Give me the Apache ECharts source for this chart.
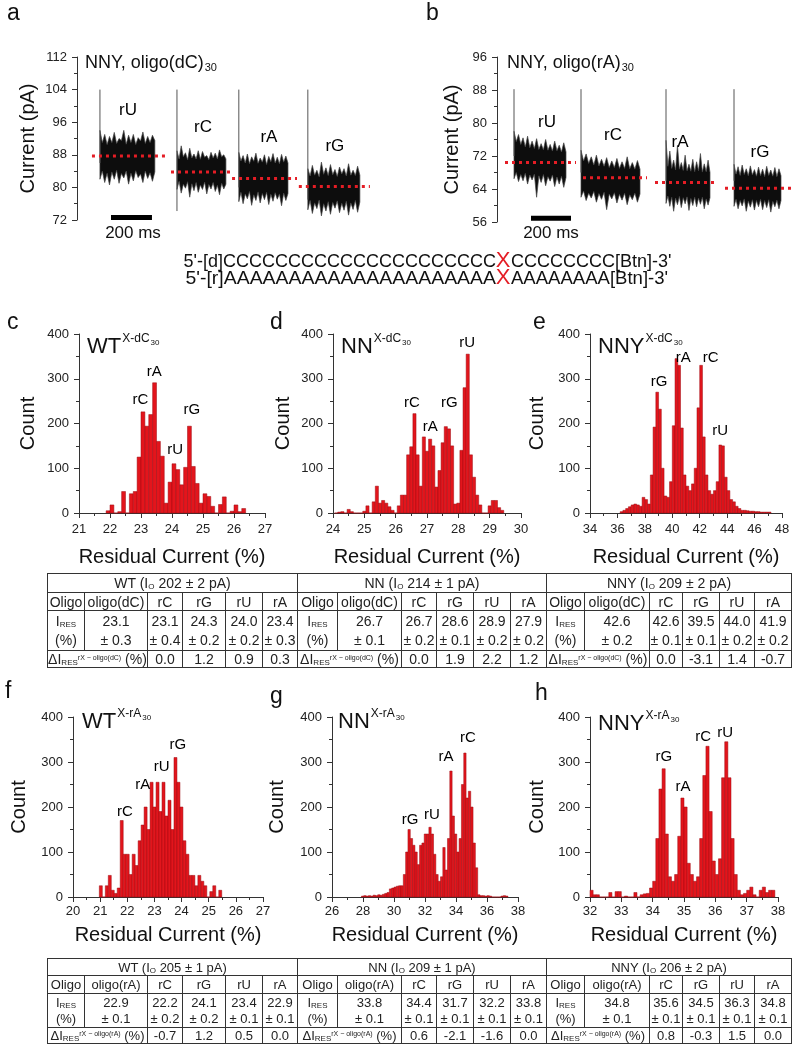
<!DOCTYPE html>
<html>
<head>
<meta charset="utf-8">
<script src="https://cdn.jsdelivr.net/npm/echarts@6/dist/echarts.min.js"></script>
<style>
  body { margin: 0; background: #fff; }
  #wrap { position: relative; width: 801px; height: 1050px; }
  #chart { position: absolute; left: 0; top: 0; width: 801px; height: 1050px; }
  table.res { position: absolute; border-collapse: collapse; table-layout: fixed;
    font-family: 'Liberation Sans', Arial, sans-serif; color: #222; border: 1.5px solid #333; }
  table.res td { border: 1px solid #333; text-align: center; padding: 0; white-space: nowrap; overflow: hidden; }
  table.res sub { font-size: 8px; vertical-align: -1px; line-height: 0; }
  table.res sup { font-size: 7px; vertical-align: 4px; line-height: 0; }
</style>
</head>
<body>
<div id="wrap">
  <div id="chart"></div>
</div>
<script>
// ---------- panel a / b : current traces ----------
const traceNames = ['rU', 'rC', 'rA', 'rG'];

const aStart = [112, 488, 790, 1127];
const aEnd = [380, 727, 1030, 1381];
const aSpikeTop = [104, 104, 104, 104];
const aSpikeLow = [86, 74.2, 80, 77];
const aLevel = [87.7, 83.8, 82.2, 80.2];
const aLevelFrom = [73, 459, 757, 1083];
const aLevelTo = [430, 766, 1074, 1430];
const aLabelX = [249, 615, 937, 1259];
const aLabelY = [99.0, 94.8, 92.2, 90.0];
const aScale = [166, 366];
const aUpper = [
  [94, 91, 93, 90.5, 92.5, 91, 93.5, 90.8, 92, 91.5, 94, 90.6, 92.8, 91, 93, 90.5, 92.2, 91.4, 93.6, 90.8, 92.5, 91, 92.8, 91.5],
  [89, 87, 90.2, 87.5, 88.5, 86.8, 89.6, 87.2, 88.2, 87, 89, 86.9, 88.8, 87.4, 87.8, 86.8, 88.6, 87.2, 88.4, 87, 89.2, 87.5, 88, 87],
  [88.6, 86.5, 87.8, 86, 88.2, 85.8, 87.5, 86.4, 88.4, 85.9, 87.2, 86.2, 88, 85.6, 87.6, 86.3, 88.3, 86, 87.4, 85.8, 88.1, 86.2, 87.7, 86],
  [84.6, 82.8, 85.4, 83, 84.2, 82.6, 86.2, 83.2, 84.8, 82.9, 85.6, 83.1, 84.4, 82.7, 85, 83.3, 84.6, 82.8, 85.8, 83, 84.2, 82.9, 85.2, 83]
];
const aLower = [
  [82, 84, 81.2, 83.5, 80.6, 83.8, 82, 84.2, 81, 83.4, 82.3, 84, 80.8, 83.5, 81.6, 84.1, 82.4, 83.3, 81.2, 84, 82.2, 83.6, 81.5, 83.8],
  [79.5, 81.5, 78.6, 80.8, 79.8, 81.4, 77.6, 80.9, 79.2, 81.2, 78.8, 80.6, 79.5, 81.3, 78.4, 80.7, 79.6, 81.2, 79, 80.5, 78.2, 81, 79.6, 80.8],
  [76.5, 78.8, 76, 78.4, 77.2, 79, 75.6, 78.2, 76.8, 78.9, 76.2, 78.5, 77, 78.8, 75.8, 78.3, 76.6, 78.7, 77.1, 78.4, 75.5, 78.6, 76.8, 78.5],
  [74.5, 76.8, 73.6, 76.2, 74.8, 76.9, 73, 76, 74.2, 76.5, 73.4, 76.3, 74.9, 76.7, 73.8, 76.1, 74.4, 76.6, 73.2, 76.2, 74.6, 76.8, 73.9, 76.4]
];

const bStart = [85, 420, 845, 1185];
const bEnd = [345, 715, 1065, 1420];
const bSpikeTop = [88.2, 88.2, 88.2, 88.2];
const bSpikeLow = [72, 68, 66, 66];
const bLevel = [70.4, 66.7, 65.6, 64.2];
const bLevelFrom = [40, 430, 790, 1140];
const bLevelTo = [395, 750, 1105, 1480];
const bLabelX = [250, 580, 915, 1315];
const bLabelY = [80.2, 77.1, 75.4, 73.0];
const bScale = [170, 370];
const bUpper = [
  [78, 75.5, 77.2, 74.8, 76.4, 74.2, 76.8, 74, 75.6, 73.8, 76.2, 73.6, 75, 73.5, 76, 73.4, 74.8, 73.2, 75.6, 73.3, 74.6, 73, 75.2, 73],
  [73.4, 70.8, 72.5, 70.2, 71.8, 69.8, 72.2, 69.6, 71.2, 69.5, 71.6, 69.2, 70.8, 69.2, 71.4, 69, 70.6, 69, 71.8, 68.9, 70.4, 68.8, 70.9, 68.8],
  [75.8, 69.5, 73.2, 69, 71, 68.6, 74.6, 68.8, 70.4, 68.5, 72.2, 68.4, 70, 68.3, 71.2, 68.2, 70.6, 68.4, 72.6, 68.1, 70.1, 68.2, 71, 68],
  [70, 67.6, 69.4, 67.3, 69.8, 67.5, 68.9, 67.2, 69.6, 67.4, 68.7, 67.1, 69.3, 67.2, 68.8, 67, 69.5, 67.3, 68.6, 67.1, 69.2, 67, 68.9, 67.2]
];
const bLower = [
  [66.5, 68, 65.8, 67.5, 66, 67.8, 65.2, 67.4, 66.2, 67.6, 62, 67.2, 65.6, 67.5, 64.8, 67, 65.9, 67.4, 64.6, 66.9, 65.2, 67.1, 64.4, 66.8],
  [62, 63.5, 61.2, 63, 61.8, 63.4, 60.8, 62.9, 61.5, 63.2, 59, 62.8, 61.6, 63.1, 60.6, 62.7, 61.3, 63, 60.2, 62.6, 61.4, 63, 60.8, 62.8],
  [60.5, 62.3, 59.8, 62, 58.6, 61.8, 60.2, 62.2, 59.5, 61.9, 60.4, 62.1, 58.8, 61.7, 60, 62, 59.7, 61.8, 60.3, 62, 59.2, 61.6, 60.1, 61.9],
  [59.8, 61.5, 59.2, 61.2, 59.9, 61.6, 58.6, 61.1, 59.6, 61.4, 58.9, 61.2, 59.7, 61.5, 59, 61.2, 59.5, 61.4, 58.4, 61, 59.7, 61.3, 59.2, 61.2]
];

// ---------- histograms c-h ----------
const cStart = 21.875, cWidth = 0.125;
const cCounts = [5, 18, 0, 3, 48, 0, 43, 48, 125, 226, 194, 220, 291, 160, 127, 22, 69, 110, 97, 63, 102, 194, 104, 66, 22, 43, 37, 15, 0, 19, 36, 0, 4, 18, 3, 10];
const cPeaks = ['rC', 'rA', 'rU', 'rG'];
const cPeakX = [22.98, 23.43, 24.10, 24.64];
const cPeakY = [252, 315, 141, 230];

const dStart = 24.05, dWidth = 0.1;
const dCounts = [0, 2, 3, 0, 8, 3, 0, 0, 0, 4, 16, 0, 25, 60, 22, 28, 22, 14, 6, 0, 16, 40, 40, 130, 148, 222, 130, 60, 170, 138, 165, 150, 58, 95, 157, 193, 188, 150, 20, 22, 140, 280, 355, 130, 80, 40, 18, 0, 0, 16, 28, 28, 12, 6];
const dPeaks = ['rC', 'rA', 'rG', 'rU'];
const dPeakX = [26.52, 27.10, 27.71, 28.28];
const dPeakY = [246, 192, 246, 380];

const eStart = 36.2, eWidth = 0.2;
const eCounts = [3, 6, 10, 14, 18, 20, 18, 15, 35, 30, 20, 85, 192, 270, 232, 100, 38, 35, 70, 195, 345, 330, 190, 85, 60, 50, 65, 100, 235, 330, 170, 85, 50, 42, 50, 70, 152, 150, 80, 50, 30, 25, 15, 10, 6, 6, 5, 4, 4, 3, 3, 2, 2, 2, 2];
const ePeaks = ['rG', 'rA', 'rC', 'rU'];
const ePeakX = [39.04, 40.8, 42.8, 43.5];
const ePeakY = [293, 346, 346, 183];

const fStart = 20.97, fWidth = 0.11;
const fCounts = [25, 0, 25, 48, 15, 8, 20, 170, 95, 95, 50, 95, 70, 125, 160, 200, 150, 255, 200, 255, 190, 255, 180, 215, 150, 310, 255, 200, 125, 95, 48, 48, 25, 48, 35, 25, 0, 12, 25, 0, 15];
const fPeaks = ['rC', 'rA', 'rU', 'rG'];
const fPeakX = [21.91, 22.57, 23.27, 23.86];
const fPeakY = [189, 249, 289, 338];

const gStart = 27.9, gWidth = 0.15;
const gCounts = [2, 3, 2, 3, 2, 4, 3, 5, 4, 6, 8, 10, 18, 20, 22, 24, 25, 25, 50, 100, 150, 130, 115, 100, 72, 115, 120, 140, 140, 155, 140, 95, 50, 35, 45, 110, 60, 130, 280, 180, 140, 100, 130, 250, 320, 220, 235, 200, 120, 65, 5, 3, 3, 2, 3, 2, 0, 0, 0, 0, 2, 3, 2];
const gPeaks = ['rG', 'rU', 'rA', 'rC'];
const gPeakX = [31.03, 32.45, 33.35, 34.77];
const gPeakY = [171, 182, 311, 353];

const hStart = 32.0, hWidth = 0.1;
const hCounts = [15, 5, 5, 0, 0, 0, 10, 0, 12, 12, 0, 2, 0, 0, 10, 0, 5, 7, 8, 20, 35, 130, 240, 285, 140, 45, 35, 50, 135, 220, 200, 75, 50, 35, 45, 130, 270, 335, 190, 80, 50, 85, 265, 345, 265, 130, 50, 15, 5, 8, 15, 22, 5, 0, 15, 22, 10, 15, 15];
const hPeaks = ['rG', 'rA', 'rC', 'rU'];
const hPeakX = [34.36, 34.97, 35.61, 36.31];
const hPeakY = [311, 244, 356, 364];

// ---------- tables ----------
const groups1 = ['WT', 'NN', 'NNY'];
const io1 = ['202 ± 2', '214 ± 1', '209 ± 2'];
const ref1 = [23.1, 26.7, 42.6];
const refErr1 = [0.3, 0.1, 0.2];
const res1 = [[23.1, 24.3, 24.0, 23.4], [26.7, 28.6, 28.9, 27.9], [42.6, 39.5, 44.0, 41.9]];
const err1 = [[0.4, 0.2, 0.2, 0.3], [0.2, 0.1, 0.2, 0.2], [0.1, 0.1, 0.2, 0.2]];
const delta1 = [[0.0, 1.2, 0.9, 0.3], [0.0, 1.9, 2.2, 1.2], [0.0, -3.1, 1.4, -0.7]];

const groups2 = ['WT', 'NN', 'NNY'];
const io2 = ['205 ± 1', '209 ± 1', '206 ± 2'];
const ref2 = [22.9, 33.8, 34.8];
const refErr2 = [0.1, 0.1, 0.1];
const res2 = [[22.2, 24.1, 23.4, 22.9], [34.4, 31.7, 32.2, 33.8], [35.6, 34.5, 36.3, 34.8]];
const err2 = [[0.2, 0.2, 0.1, 0.1], [0.1, 0.1, 0.1, 0.1], [0.1, 0.1, 0.1, 0.1]];
const delta2 = [[-0.7, 1.2, 0.5, 0.0], [0.6, -2.1, -1.6, 0.0], [0.8, -0.3, 1.5, 0.0]];
const colNames = ['rC', 'rG', 'rU', 'rA'];

// ---------- drawing ----------
const FONT = "'Liberation Sans', Arial, sans-serif";
const RED = '#e41d25';
const INK = '#222';

const measure = (() => {
  const ctx = document.createElement('canvas').getContext('2d');
  return (t, s) => { ctx.font = s + 'px ' + FONT; return ctx.measureText(t).width; };
})();

function text(x, y, str, size, extra) {
  return {
    type: 'text', x: x, y: y, silent: true,
    style: Object.assign({ text: str, fontSize: size, fontFamily: FONT, fill: '#111', align: 'left', verticalAlign: 'middle' }, extra || {})
  };
}

// title with superscript + subscript, e.g. WT^{X-dC}_{30}
function heading(x, y, main, sup, sub) {
  const w1 = measure(main, 22);
  const w2 = measure(sup, 12);
  return [
    text(x, y, main, 22),
    text(x + w1 + 1, y - 8, sup, 12),
    text(x + w1 + w2 + 2, y - 4, sub, 8)
  ];
}

const grids = [
  { left: 77, top: 57, width: 297, height: 163 },   // a
  { left: 497, top: 57, width: 300, height: 165 },  // b
  { left: 79, top: 334, width: 186, height: 179 },  // c
  { left: 333, top: 334, width: 188, height: 179 }, // d
  { left: 590, top: 334, width: 192, height: 179 }, // e
  { left: 73, top: 717, width: 190, height: 180 },  // f
  { left: 332, top: 717, width: 186, height: 180 }, // g
  { left: 590, top: 717, width: 188, height: 180 }  // h
];

const axisLine = { show: true, lineStyle: { color: '#333', width: 1 } };
const axisTick = { show: true, length: 5, lineStyle: { color: '#333' } };
const minorTick = { show: true, splitNumber: 2, length: 3, lineStyle: { color: '#333' } };

function yAxis(gi, min, max, interval, name, gap) {
  return {
    gridIndex: gi, type: 'value', min: min, max: max, interval: interval,
    name: name, nameLocation: 'middle', nameGap: gap,
    nameTextStyle: { fontFamily: FONT, fontSize: 20, color: '#111' },
    axisLine: axisLine, axisTick: axisTick, minorTick: minorTick,
    splitLine: { show: false },
    axisLabel: { fontFamily: FONT, fontSize: 13, color: INK, margin: 10 }
  };
}

function xAxisHist(gi, min, max, interval, minorSplit, margin, gap) {
  return {
    gridIndex: gi, type: 'value', min: min, max: max, interval: interval,
    name: 'Residual Current (%)', nameLocation: 'middle', nameGap: gap,
    nameTextStyle: { fontFamily: FONT, fontSize: 20, color: '#111' },
    axisLine: axisLine, axisTick: axisTick,
    minorTick: Object.assign({}, minorTick, { splitNumber: minorSplit }),
    splitLine: { show: false },
    axisLabel: { fontFamily: FONT, fontSize: 13, color: INK, margin: margin }
  };
}

function traceSeries(gi, start, end, upper, lower, spikeTop, spikeLow) {
  return {
    type: 'custom', xAxisIndex: gi, yAxisIndex: gi, silent: true,
    data: start.map((s, i) => [s, end[i], i]),
    renderItem: (params, api) => {
      const s = api.value(0), e = api.value(1), i = api.value(2);
      const up = upper[i], lo = lower[i];
      const pts = [];
      up.forEach((v, k) => pts.push(api.coord([s + (e - s) * k / (up.length - 1), v])));
      for (let k = lo.length - 1; k >= 0; k--) {
        pts.push(api.coord([s + (e - s) * k / (lo.length - 1), lo[k]]));
      }
      const top = api.coord([s, spikeTop[i]]);
      const bot = api.coord([s, spikeLow[i]]);
      return {
        type: 'group', children: [
          { type: 'polygon', shape: { points: pts }, style: { fill: '#0d0d0d', stroke: '#444', lineWidth: 0.7 } },
          { type: 'line', shape: { x1: top[0], y1: top[1], x2: bot[0], y2: bot[1] }, style: { stroke: '#555', lineWidth: 1 } }
        ]
      };
    }
  };
}

function levelSeries(gi, level, from, to) {
  return level.map((l, i) => ({
    type: 'line', xAxisIndex: gi, yAxisIndex: gi, silent: true, z: 5,
    symbol: 'none', data: [[from[i], l], [to[i], l]],
    lineStyle: { color: RED, width: 3, type: [3, 4] }
  }));
}

function scaleBar(gi, span, y) {
  return {
    type: 'line', xAxisIndex: gi, yAxisIndex: gi, silent: true, symbol: 'none',
    data: [[span[0], y], [span[1], y]], lineStyle: { color: '#000', width: 5 }
  };
}

// peak / event names placed in data coordinates
function labelSeries(gi, names, xs, ys, size) {
  return {
    type: 'custom', xAxisIndex: gi, yAxisIndex: gi, silent: true, z: 6,
    data: xs.map((x, i) => [x, ys[i], i]),
    renderItem: (params, api) => {
      const p = api.coord([api.value(0), api.value(1)]);
      return {
        type: 'text', x: p[0], y: p[1],
        style: { text: names[api.value(2)], fontSize: size, fontFamily: FONT, fill: '#000', align: 'center', verticalAlign: 'middle' }
      };
    }
  };
}

function histSeries(gi, start, width, counts) {
  return {
    type: 'custom', xAxisIndex: gi, yAxisIndex: gi, silent: true,
    encode: { x: [0, 1], y: 2 },
    data: counts.map((c, i) => [start + i * width, start + (i + 1) * width, c]),
    renderItem: (params, api) => {
      const p0 = api.coord([api.value(0), 0]);
      const p1 = api.coord([api.value(1), api.value(2)]);
      return {
        type: 'rect',
        shape: { x: p0[0], y: p1[1], width: p1[0] - p0[0], height: p0[1] - p1[1] },
        style: { fill: '#e3151c', stroke: '#9c0b10', lineWidth: 0.5 }
      };
    }
  };
}

const xAxes = [
  { gridIndex: 0, type: 'value', min: 0, max: 1450, show: false },
  { gridIndex: 1, type: 'value', min: 0, max: 1500, show: false },
  xAxisHist(2, 21, 27, 1, 2, 10, 34),
  xAxisHist(3, 24, 30, 1, 2, 10, 34),
  xAxisHist(4, 34, 48, 2, 2, 10, 34),
  xAxisHist(5, 20, 27, 1, 2, 8, 28),
  xAxisHist(6, 26, 38, 2, 2, 8, 28),
  xAxisHist(7, 32, 38, 1, 2, 8, 28)
];

const yAxes = [
  yAxis(0, 72, 112, 8, 'Current (pA)', 39),
  yAxis(1, 56, 96, 8, 'Current (pA)', 35),
  yAxis(2, 0, 400, 100, 'Count', 41),
  yAxis(3, 0, 400, 100, 'Count', 40),
  yAxis(4, 0, 400, 100, 'Count', 43),
  yAxis(5, 0, 400, 100, 'Count', 44),
  yAxis(6, 0, 400, 100, 'Count', 45),
  yAxis(7, 0, 400, 100, 'Count', 43)
];

const series = [].concat(
  traceSeries(0, aStart, aEnd, aUpper, aLower, aSpikeTop, aSpikeLow),
  levelSeries(0, aLevel, aLevelFrom, aLevelTo),
  scaleBar(0, aScale, 72.6),
  labelSeries(0, traceNames, aLabelX, aLabelY, 17),
  traceSeries(1, bStart, bEnd, bUpper, bLower, bSpikeTop, bSpikeLow),
  levelSeries(1, bLevel, bLevelFrom, bLevelTo),
  scaleBar(1, bScale, 56.9),
  labelSeries(1, traceNames, bLabelX, bLabelY, 17),
  histSeries(2, cStart, cWidth, cCounts),
  labelSeries(2, cPeaks, cPeakX, cPeakY, 15),
  histSeries(3, dStart, dWidth, dCounts),
  labelSeries(3, dPeaks, dPeakX, dPeakY, 15),
  histSeries(4, eStart, eWidth, eCounts),
  labelSeries(4, ePeaks, ePeakX, ePeakY, 15),
  histSeries(5, fStart, fWidth, fCounts),
  labelSeries(5, fPeaks, fPeakX, fPeakY, 15),
  histSeries(6, gStart, gWidth, gCounts),
  labelSeries(6, gPeaks, gPeakX, gPeakY, 15),
  histSeries(7, hStart, hWidth, hCounts),
  labelSeries(7, hPeaks, hPeakX, hPeakY, 15)
);

// texts around the plots
const w1 = measure('NNY, oligo(dC)', 18);
const w2 = measure('NNY, oligo(rA)', 18);
const graphics = [
  text(7, 14, 'a', 23), text(426, 14, 'b', 23),
  text(7, 323, 'c', 23), text(270, 323, 'd', 23), text(533, 323, 'e', 23),
  text(5, 692, 'f', 23), text(270, 697, 'g', 23), text(535, 694, 'h', 23),
  text(85, 63, 'NNY, oligo(dC)', 18), text(85 + w1 + 1, 68, '30', 11),
  text(507, 63, 'NNY, oligo(rA)', 18), text(507 + w2 + 1, 68, '30', 11),
  text(133, 233, '200 ms', 17, { align: 'center' }),
  text(551, 233, '200 ms', 17, { align: 'center' }),
  // sequences, aligned on the red X
  text(496, 262, "5'-[d]CCCCCCCCCCCCCCCCCCCCC", 18, { align: 'right' }),
  text(503, 261, 'X', 22, { align: 'center', fill: RED }),
  text(511, 262, "CCCCCCCC[Btn]-3'", 18),
  Object.assign(text(496, 279, "5'-[r]AAAAAAAAAAAAAAAAAAAAA", 18, { align: 'right' }), { scaleX: 1.08 }),
  text(503, 278, 'X', 22, { align: 'center', fill: RED }),
  Object.assign(text(511, 279, "AAAAAAAA[Btn]-3'", 18), { scaleX: 1.03 })
].concat(
  heading(87, 347, 'WT', 'X-dC', '30'),
  heading(341, 347, 'NN', 'X-dC', '30'),
  heading(598, 347, 'NNY', 'X-dC', '30'),
  heading(82, 722, 'WT', 'X-rA', '30'),
  heading(338, 722, 'NN', 'X-rA', '30'),
  heading(598, 724, 'NNY', 'X-rA', '30')
);

const chart = echarts.init(document.getElementById('chart'));
chart.setOption({
  animation: false,
  backgroundColor: '#fff',
  grid: grids,
  xAxis: xAxes,
  yAxis: yAxes,
  series: series,
  graphic: graphics
});

// ---------- result tables ----------
const colW = [37, 63, 35, 43, 37, 35, 40, 64, 35, 37, 37, 36, 38, 65, 33, 37, 35, 37];
const f1 = v => v.toFixed(1);

function buildTable(top, rowH, fontSize, refName, groups, io, ref, refErr, res, err, delta) {
  const t = document.createElement('table');
  t.className = 'res';
  t.style.left = '47px';
  t.style.top = top + 'px';
  t.style.fontSize = fontSize + 'px';
  let html = '<colgroup>' + colW.map(w => '<col style="width:' + w + 'px">').join('') + '</colgroup>';
  html += '<tr style="height:' + rowH[0] + 'px">' + groups.map((g, i) =>
    '<td colspan="6">' + g + ' (I<sub>O</sub> ' + io[i] + ' pA)</td>').join('') + '</tr>';
  html += '<tr style="height:' + rowH[1] + 'px">' + groups.map(() =>
    '<td>Oligo</td><td>' + refName + '</td>' + colNames.map(c => '<td>' + c + '</td>').join('')).join('') + '</tr>';
  html += '<tr style="height:' + rowH[2] + 'px;line-height:' + Math.round(rowH[2] / 2 - 1) + 'px">' + groups.map((g, i) =>
    '<td>I<sub>RES</sub><br>(%)</td><td>' + f1(ref[i]) + '<br>± ' + f1(refErr[i]) + '</td>' +
    res[i].map((v, k) => '<td>' + f1(v) + '<br>± ' + f1(err[i][k]) + '</td>').join('')).join('') + '</tr>';
  html += '<tr style="height:' + rowH[3] + 'px">' + groups.map((g, i) =>
    '<td colspan="2">ΔI<sub>RES</sub><sup>rX − ' + refName + '</sup> (%)</td>' +
    delta[i].map(v => '<td>' + f1(v) + '</td>').join('')).join('') + '</tr>';
  t.innerHTML = html;
  document.getElementById('wrap').appendChild(t);
}

buildTable(573, [19, 18, 40, 17], 14, 'oligo(dC)', groups1, io1, ref1, refErr1, res1, err1, delta1);
buildTable(958, [17, 18, 34, 16], 13, 'oligo(rA)', groups2, io2, ref2, refErr2, res2, err2, delta2);
</script>
</body>
</html>
